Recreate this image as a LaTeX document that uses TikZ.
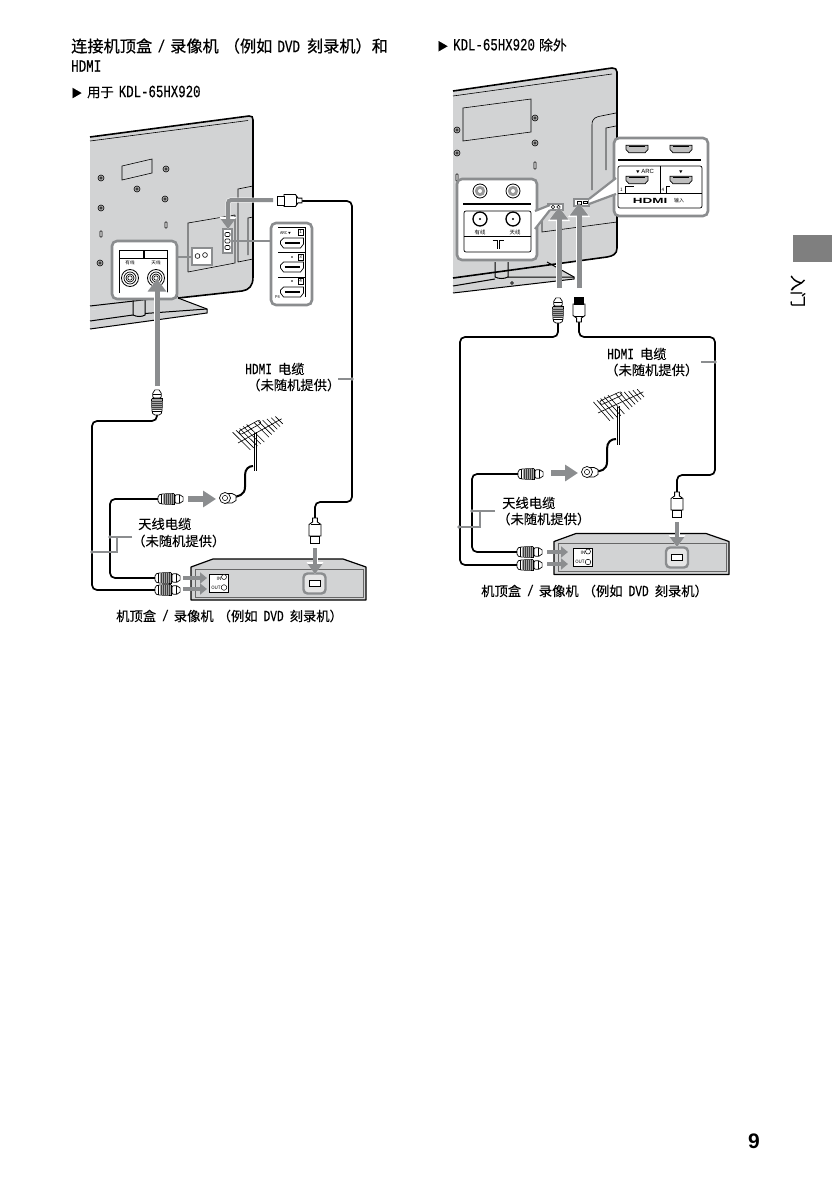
\documentclass[tikz,border=0pt]{standalone}
\usepackage{fontspec}
\setmainfont[FakeBold=0.12]{Noto Sans CJK SC}
\newfontfamily\ttlfont[FakeBold=0.55]{Noto Sans CJK SC}
\newfontfamily\tinyfont{Noto Sans CJK SC}
\newfontfamily\latfont[FakeStretch=0.72,FakeBold=0.2]{Liberation Mono}
\newfontfamily\latboldfont[FakeStretch=0.72,FakeBold=0.4]{Liberation Mono}
\newfontfamily\sansfont{Liberation Sans}
\usetikzlibrary{arrows.meta}
\definecolor{bodygray}{HTML}{D2D3D4}
\definecolor{callgray}{HTML}{8B8D8F}
\definecolor{sidegray}{HTML}{7F7F7F}
\newcommand{\sz}[1]{\fontsize{#1pt}{#1pt}\selectfont}
\newcommand{\lt}[1]{{\fontsize{15.5pt}{16pt}\latfont #1}}
\newcommand{\hd}[1]{{\fontsize{17.4pt}{16pt}\latboldfont #1}}
\newcommand{\sbt}[1]{{\fontsize{17.2pt}{16pt}\latfont #1}}
\newcommand{\gp}[1]{\hspace*{#1pt}}
\tikzset{
  x=1pt,y=-1pt,
  cable/.style={draw=black,line width=1.7pt,rounded corners=5pt},
  leader/.style={draw=callgray,line width=1.1pt},
  dotend/.style={fill=callgray,draw=none},
  panel/.style={draw=callgray,line width=2.6pt,fill=white,rounded corners=5pt},
  thinl/.style={draw=black,line width=0.6pt},
  edgeln/.style={draw=black,line width=1pt},
  bigarrow/.style={draw=callgray,line width=5pt,
    preaction={draw=white,line width=6.4pt,-{Triangle[length=14pt,width=21pt]}},
    -{Triangle[length=12.5pt,width=18pt]}},
  midarrow/.style={draw=callgray,line width=4pt,
    preaction={draw=white,line width=5pt,-{Triangle[length=12pt,width=16pt]}},
    -{Triangle[length=10pt,width=14pt]}},
  smallarrow/.style={draw=callgray,line width=3.4pt,-{Triangle[length=7pt,width=11pt]}},
  antarrow/.style={draw=callgray,line width=6pt,-{Triangle[length=13pt,width=16pt]}},
  txt/.style={inner sep=0pt,anchor=west,text=black},
  tiny/.style={inner sep=0pt,text=black,font=\tinyfont\sz{4.6}},
  coaxplug/.pic={
    \draw[line width=0.7pt,fill=white,rounded corners=1.5pt] (0,-3.5) -- (3,-5) -- (17,-5.5) -- (17,5.5) -- (3,5) -- (0,3.5) -- cycle;
    \fill[black!35] (5,-5) rectangle (16,5);
    \foreach \u in {6,8,10,12,14}{\draw[black!75,line width=0.5pt] (\u,-5) -- (\u,5);}
    \draw[line width=0.8pt] (3.5,-5) -- (3.5,5) (16.5,-5.5) -- (16.5,5.5);
    \draw[line width=0.7pt,fill=white,rounded corners=2pt] (17,-4.5) -- (24,-4) -- (26,0) -- (24,4) -- (17,4.5) -- cycle;
    \draw[line width=0.6pt] (21,-4) -- (21,4);
  },
  hdmiplug/.pic={
    \draw[line width=0.9pt,fill=white] (0,-2.4) -- (4,-2.4) -- (6.5,-6) -- (18,-6) -- (18,6) -- (6.5,6) -- (4,2.4) -- (0,2.4) -- cycle;
    \draw[line width=0.9pt,fill=white] (18,-4.5) -- (25,-4.5) -- (25,4.5) -- (18,4.5) -- cycle;
    \draw[line width=0.6pt] (6,-4.5) -- (6,4.5);
  },
  porta/.pic={
    \draw[line width=0.7pt,fill=white] (-11.5,-2) -- (-8.5,-5) -- (11.5,-5) -- (11.5,1) -- (8.5,5) -- (-8.5,5) -- (-11.5,1) -- cycle;
    \draw[line width=2pt] (-7.5,-0.5) -- (7.5,-0.5);
  },
  portb/.pic={
    \draw[line width=0.7pt,fill=black!25] (-11,-3.8) -- (11,-3.8) -- (11,0.5) -- (8,3.8) -- (-8,3.8) -- (-11,0.5) -- cycle;
    \draw[line width=1.4pt] (-8,-2.3) -- (8,-2.3);
  },
  rings/.pic={
    \draw[line width=0.8pt,fill=white] (0,0) circle (8.5pt);
    \draw[line width=0.7pt] (0,0) circle (6pt) (0,0) circle (4pt);
    \draw[line width=0.6pt] (0,0) circle (2.2pt);
  },
  screw/.pic={
    \draw[line width=0.6pt,fill=black!30] (0,0) circle (3pt);
    \draw[line width=0.5pt,fill=white] (0,0) circle (1.2pt);
  },
  gcirc/.pic={
    \draw[line width=0.8pt,fill=white] (0,0) circle (7pt);
    \fill[black!40] (0,0) circle (5.2pt);
    \fill[white] (0,0) circle (2pt);
  },
  dcirc/.pic={
    \draw[line width=1.3pt,fill=white] (0,0) circle (7pt);
    \fill (0,0) circle (1.1pt);
  },
  tsym/.pic={
    \draw[line width=0.8pt] (-5.5,-4) -- (-0.9,-4) -- (-0.9,5) (5.5,-4) -- (0.9,-4) -- (0.9,5);
  },
  antenna/.pic={
    \draw[line width=0.6pt] (0,0) -- (50,0);
    \foreach \u/\l in {4/12,8/12,12/12,16/12,20/12,27/10,31/9,35/8,39/7,43/6,47/5}{
      \draw[line width=0.6pt] ({\u-0.29*\l},-\l) -- ({\u+0.29*\l},\l);}
    \draw[line width=0.6pt,rounded corners=2pt] (6,-10) -- (30,-10) -- (30,-6) -- (6,-6) -- cycle;
  },
  fconn/.pic={
    \draw[line width=0.7pt,fill=white] (0,-4.5) -- (7,-4.5) -- (11,-2.5) -- (11,2.5) -- (7,5) -- (0,5) -- cycle;
    \draw[line width=0.7pt,fill=white] (0,0) circle (5.5pt);
    \draw[line width=0.5pt] (0,0) circle (2.6pt);
  },
  settop/.pic={
    \draw[line width=0.8pt,fill=bodygray] (6,33) arc[start angle=180,end angle=360,x radius=11.5,y radius=3.5];
    \draw[line width=0.8pt,fill=bodygray] (147,33) arc[start angle=180,end angle=360,x radius=11,y radius=3.5];
    \draw[line width=1.2pt,fill=bodygray,line join=round] (0,8) -- (22,0) -- (152,0) -- (175,8) -- (175,41) -- (0,41) -- cycle;
    \draw[line width=0.5pt,draw=black!60] (4,10) rectangle (172,38);
  },
  hplate/.pic={
    \draw[callgray,line width=2.4pt,fill=black!10,rounded corners=4pt] (-11,-10) rectangle (11,10);
    \draw[line width=0.8pt,fill=white] (-5.5,-3) rectangle (5.5,3);
  },
  ioplate/.pic={
    \draw[line width=0.5pt,fill=white] (0,0) rectangle (19,18);
    \draw[line width=0.5pt,fill=white] (15,3) circle (2.5pt) (15,13.5) circle (2.8pt);
    \node[inner sep=0pt,font=\tinyfont\sz{4.6}] at (10,4.5) {IN};
    \node[inner sep=0pt,font=\tinyfont\sz{4.6}] at (7,13.5) {OUT};
  },
}
\begin{document}
\begin{tikzpicture}
\useasboundingbox (0,0) rectangle (832,1180);
\fill[white] (0,0) rectangle (832,1180);

% ---------- left television ----------
\fill[bodygray] (90,137) -- (249,116) -- (253,119) -- (253,277) .. controls (253,286) and (249,290) .. (242,291) -- (90,310) -- cycle;
\fill[bodygray] (178,298) -- (207,309) -- (207,313) -- (90,329) -- (90,310) -- cycle;
\draw[edgeln,fill=bodygray] (133,298) -- (133,315) .. controls (137,317) and (142,317) .. (145,315) -- (145,298);
\draw[line width=1.6pt] (90,137) -- (249,116) .. controls (252,116) and (253,117) .. (253,120) -- (253,277) .. controls (253,286) and (249,290) .. (242,291) -- (178,298);
\draw[thinl] (90,141) -- (248,120.5);
\draw[edgeln] (90,306) -- (178,296);
\draw[edgeln] (178,298) -- (207,309) -- (207,313) -- (90,329);
\draw[edgeln] (90,321) -- (133,315) (145,313.5) -- (207,309);
\draw[thinl] (122,166) -- (152,159) -- (152,173) -- (122,180) -- cycle;
\draw[thinl] (188,272) -- (188,223) -- (235,215) (188,272) -- (235,263) -- (235,215);
\draw[thinl] (238,262) -- (238,189) -- (253,186) (248,255) -- (248,218) -- (253,217) (238,262) -- (253,259);
\path (101,178) pic {screw} (166,169) pic {screw} (137,189) pic {screw} (165,199) pic {screw} (101,208) pic {screw} (100,263) pic {screw};
\draw[line width=0.6pt,fill=white,rounded corners=0.5pt] (100,231) rectangle (102,237) (165,222) rectangle (167,228);

% left antenna callout
\coordinate (lcallE) at (177,257);
\coordinate (lboxW) at (192,257);
\draw[callgray,line width=2.4pt] (lcallE) -- (lboxW);
\draw[callgray,line width=1.6pt,fill=white] (192,248) rectangle (212,265);
\draw[line width=0.6pt] (197.5,256) circle (2.4pt) (205,255) circle (2.4pt);
\draw[panel] (112,241) rectangle (177,299);
\draw[thinl] (119,293) -- (119,250) -- (167,250) -- (167,293);
\draw[thinl] (119,258) -- (167,258);
\path (144,254) pic[scale=.9] {tsym};
\node[tiny] (lwired) at (130,263) {有线};
\node[tiny] (lant) at (156,263) {天线};
\path (130,278) pic {rings} (156,278) pic {rings};

% left HDMI callout
\coordinate (lhdmiE) at (232,241);
\coordinate (lpanelW) at (271,241);
\draw[callgray,line width=2.4pt] (lhdmiE) -- (lpanelW);
\draw[callgray,line width=1.6pt,fill=white] (223,229) rectangle (232,253);
\draw[line width=0.7pt,fill=white,rounded corners=1pt] (225,232.5) rectangle (230,236.5) (225,239) rectangle (230,243) (225,245.5) rectangle (230,249.5);
\draw[panel] (271,223) rectangle (312,305);
\draw[thinl] (278,227) -- (305,227) -- (305,297) (278,252) -- (305,252) (278,277) -- (305,277);
\path (292,243) pic {porta} (292,267) pic {porta} (292,292) pic {porta};
\node[tiny,font=\tinyfont\sz{4}] (larc) at (285.5,233) {ARC\,{\sz{2.8}▼}};
\draw[line width=0.3pt,fill=white] (298.5,229) rectangle (303,235.5);
\draw[line width=0.3pt,fill=white] (298.5,254) rectangle (303,260.5);
\draw[line width=0.3pt,fill=white] (298.5,278) rectangle (303,284.5);
\node[tiny,font=\tinyfont\sz{4.6}] (lone) at (300.7,232.2) {1};
\node[tiny,font=\tinyfont\sz{4.6}] (lthree) at (300.7,257.2) {3};
\node[tiny,font=\tinyfont\sz{4.6}] (lfour) at (300.7,281.2) {4};
\fill (292,257) circle (0.8pt) (292,281) circle (0.8pt);
\node[tiny,font=\tinyfont\sz{4}] (lpf) at (277.5,297.5) {P4};

% left cables
\coordinate (lhplugC) at (302,201);
\coordinate (lhA) at (352,201);
\coordinate (lhB) at (352,502);
\coordinate (lhC) at (315,502);
\coordinate (lhplugD) at (315,518);
\draw[cable] (lhplugC) -- (lhA) -- (lhB) -- (lhC) -- (lhplugD);
\coordinate (lcoaxU) at (157,414);
\coordinate (lcA) at (157,421);
\coordinate (lcB) at (92,421);
\coordinate (lcC) at (92,590);
\coordinate (lcoaxOut) at (155,590);
\draw[cable] (lcoaxU) -- (lcA) -- (lcB) -- (lcC) -- (lcoaxOut);
\coordinate (lant1) at (158,499);
\coordinate (laA) at (110,499);
\coordinate (laB) at (110,578);
\coordinate (lcoaxIn) at (155,578);
\draw[cable] (lant1) -- (laA) -- (laB) -- (lcoaxIn);
\path (302,200.5) pic[rotate=180] {hdmiplug};
\path (315,518) pic[rotate=-90] {hdmiplug};
\path (157,415) pic[rotate=90] {coaxplug};
\path (158,499) pic {coaxplug};
\path (155,578) pic {coaxplug};
\path (155,590) pic {coaxplug};

% left arrows
\coordinate (laS) at (157,386);
\coordinate (laT) at (157,279);
\draw[bigarrow] (laS) -- (laT);
\coordinate (lhS) at (273,200);
\coordinate (lhM) at (228,200);
\coordinate (lhT) at (228,229);
\draw[midarrow,rounded corners=3pt] (lhS) -- (lhM) -- (lhT);

% left antenna
\draw[thinl] (254,433) -- (254,471) (256.5,432) -- (256.5,471);
\path (238,443) pic[rotate=29] {antenna};
\coordinate (laF) at (232,497);
\coordinate (laG) at (253,466);
\draw[line width=2pt] (laF) .. controls (238,497) and (245,495) .. (245,487) -- (245,475) .. controls (245,469) and (249,466) .. (laG);
\path (225,498) pic {fconn};
\coordinate (laa) at (188,499);
\coordinate (lab) at (216,499);
\draw[antarrow] (laa) -- (lab);

% left set-top box
\path (191,559) pic {settop};
\path (314.5,583.5) pic {hplate};
\path (209,574) pic {ioplate};
\coordinate (lsA) at (183,578);
\coordinate (lsB) at (207,578);
\coordinate (lsC) at (183,589);
\coordinate (lsD) at (207,589);
\draw[smallarrow] (lsA) -- (lsB);
\draw[smallarrow] (lsC) -- (lsD);
\coordinate (lpS) at (315,548);
\coordinate (lpT) at (315,574);
\draw[midarrow] (lpS) -- (lpT);

% left leaders
\coordinate (llA) at (338,379);
\coordinate (llB) at (352,379);
\draw[leader] (llA) -- (llB);
\fill[dotend] (llB) circle (1.8pt);
\coordinate (lmA) at (132,537);
\coordinate (lmB) at (110,537);
\coordinate (lmC) at (117,537);
\coordinate (lmD) at (117,552);
\coordinate (lmE) at (92,552);
\draw[leader] (lmA) -- (lmB) (lmC) -- (lmD) -- (lmE);
\fill[dotend] (lmB) circle (1.8pt) (lmE) circle (1.8pt);

% ---------- right television ----------
\fill[bodygray] (453,91) -- (613,68) -- (617,71) -- (617,248) .. controls (617,254) and (613,256) .. (607,257) -- (453,278) -- cycle;
\fill[bodygray] (547,262) -- (574,277) -- (574,279) -- (453,293) -- (453,270) -- cycle;
\draw[edgeln,fill=bodygray] (495,262) -- (495,277) .. controls (499,279) and (504,279) .. (508,277) -- (508,262);
\draw[line width=1.6pt] (453,91) -- (612,68) .. controls (615,68) and (617,69) .. (617,72) -- (617,248) .. controls (617,254) and (613,256) .. (607,257) -- (453,278);
\draw[thinl] (453,96) -- (612,74);
\draw[edgeln] (547,262) -- (574,277) -- (574,279) -- (453,293);
\draw[edgeln] (453,286) -- (495,279) (508,277) -- (574,277);
\draw[line width=0.6pt,fill=white] (512,283) circle (1.4pt);
\draw[thinl] (463,108) -- (531,99) -- (531,132) -- (463,141) -- cycle;
\draw[thinl] (592,190) -- (592,125) .. controls (592,118) and (596,117) .. (601,116) -- (616,113);
\draw[thinl] (606,170) -- (606,128) -- (616,126);
\draw[thinl] (542,208) -- (542,232) -- (617,222) (542,208) -- (548,207);
\path (535,118) pic {screw} (535,143) pic {screw} (457,130) pic {screw} (457,153) pic {screw};
\draw[line width=0.6pt,fill=white,rounded corners=0.5pt] (534,162) rectangle (536,169) (456,174) rectangle (458,181);

% right port plates
\draw[callgray,line width=1.4pt,fill=white] (548,204) rectangle (563,210);
\draw[line width=0.5pt] (553,207) circle (1.7pt) (558.5,207) circle (1.7pt);
\draw[callgray,line width=1.4pt,fill=white] (574,199) rectangle (589,206);
\draw[line width=0.5pt] (577,201.5) rectangle (581,204) (583,201) rectangle (587,203.5);

% right antenna callout
\draw[panel] (457,179) rectangle (537,260);
\coordinate (rwA) at (535,211);
\coordinate (rwB) at (550,205);
\coordinate (rwC) at (550,210);
\coordinate (rwD) at (535,229);
\fill[white] (rwA) -- (rwB) -- (rwC) -- (rwD) -- cycle;
\draw[callgray,line width=2.2pt] (rwA) -- (rwB) (rwC) -- (rwD);
\path (480,191) pic {gcirc} (513,191) pic {gcirc};
\draw[line width=1.3pt] (463,204) -- (531,204);
\draw[line width=0.7pt,rounded corners=2pt] (464,211) rectangle (531,252);
\draw[line width=0.7pt] (464,236) -- (531,236);
\path (480,219) pic {dcirc} (513,219) pic {dcirc};
\node[tiny,font=\tinyfont\sz{5.4}] (rwired) at (480,232) {有线};
\node[tiny,font=\tinyfont\sz{5.4}] (rant) at (515,232) {天线};
\path (498,244) pic {tsym};

% right HDMI callout
\draw[panel] (614,138) rectangle (708,216);
\coordinate (rhA) at (616,178);
\coordinate (rhB) at (589,199);
\coordinate (rhC) at (589,204);
\coordinate (rhD) at (616,194);
\fill[white] (rhA) -- (rhB) -- (rhC) -- (rhD) -- cycle;
\draw[callgray,line width=2.2pt] (rhA) -- (rhB) (rhC) -- (rhD);
\path (637,149) pic {portb} (681,149) pic {portb} (637,180) pic {portb} (681,180) pic {portb};
\draw[line width=1.3pt] (618,160) -- (701,160);
\draw[line width=0.7pt,rounded corners=2pt] (618,166) rectangle (702,208);
\draw[line width=0.6pt] (660,166) -- (660,193);
\draw[line width=0.6pt] (618,193) -- (702,193);
\draw[line width=0.5pt] (625,193) -- (625,186) -- (634,186);
\draw[line width=0.5pt] (666,193) -- (666,186) -- (670,186);
\node[tiny,font=\tinyfont\sz{4.6}] (rone) at (621.5,189.5) {1};
\node[tiny,font=\tinyfont\sz{4.6}] (rfour) at (663,189.5) {4};
\node[tiny,font=\sz{6}\sansfont] (rarc) at (645,172) {{\tinyfont\sz{3.6}▼} ARC};
\node[tiny,font=\tinyfont\sz{3.6}] (rtri) at (681,172) {▼};
\node[tiny,font=\sz{10}\sansfont\bfseries] (rlogo) at (650,200.5) {\scalebox{1.35}[0.75]{HDMI}};
\node[tiny,font=\tinyfont\sz{5}] (rinput) at (679,200.5) {输入};

% right cables
\coordinate (rplgA) at (558,322);
\coordinate (rcA) at (558,337);
\coordinate (rcB) at (460,337);
\coordinate (rcC) at (460,565);
\coordinate (rcoaxOut) at (517,565);
\draw[cable] (rplgA) -- (rcA) -- (rcB) -- (rcC) -- (rcoaxOut);
\coordinate (rplgB) at (579,322);
\coordinate (rhcA) at (579,337);
\coordinate (rhcB) at (715,337);
\coordinate (rhcC) at (715,475);
\coordinate (rhcD) at (677,475);
\coordinate (rplgC) at (677,492);
\draw[cable] (rplgB) -- (rhcA) -- (rhcB) -- (rhcC) -- (rhcD) -- (rplgC);
\coordinate (rant1) at (518,474);
\coordinate (raA) at (472,474);
\coordinate (raB) at (472,552);
\coordinate (rcoaxIn) at (517,552);
\draw[cable] (rant1) -- (raA) -- (raB) -- (rcoaxIn);
\path (558,323) pic[rotate=90] {coaxplug};
\path (579,322) pic[rotate=90] {hdmiplug};
\fill (574.5,297) rectangle (583.5,304);
\path (677,492) pic[rotate=-90] {hdmiplug};
\path (518,474) pic {coaxplug};
\path (517,552) pic {coaxplug};
\path (517,565) pic {coaxplug};

% right arrows
\coordinate (raS) at (559,288);
\coordinate (raT) at (559,207);
\draw[bigarrow] (raS) -- (raT);
\coordinate (rbS) at (579,288);
\coordinate (rbT) at (579,203);
\draw[bigarrow] (rbS) -- (rbT);

% right antenna
\draw[thinl] (617,407) -- (617,445) (619.5,406) -- (619.5,445);
\path (598,413) pic[rotate=25] {antenna};
\coordinate (raF) at (595,471);
\coordinate (raG) at (616,439);
\draw[line width=2pt] (raF) .. controls (600,472) and (607,470) .. (607,462) -- (607,449) .. controls (607,442) and (611,439) .. (raG);
\path (587,472) pic {fconn};
\coordinate (raa) at (551,473);
\coordinate (rab) at (578,473);
\draw[antarrow] (raa) -- (rab);

% right set-top box
\path (554,533.5) pic {settop};
\path (677,557.5) pic {hplate};
\path (573,548.5) pic {ioplate};
\coordinate (rsA) at (547,552);
\coordinate (rsB) at (568,552);
\coordinate (rsC) at (547,564);
\coordinate (rsD) at (568,564);
\draw[smallarrow] (rsA) -- (rsB);
\draw[smallarrow] (rsC) -- (rsD);
\coordinate (rpS) at (677,522);
\coordinate (rpT) at (677,547);
\draw[midarrow] (rpS) -- (rpT);

% right leaders
\coordinate (rlA) at (701,362);
\coordinate (rlB) at (715,362);
\draw[leader] (rlA) -- (rlB);
\fill[dotend] (rlB) circle (1.8pt);
\coordinate (rmA) at (495,511);
\coordinate (rmB) at (472,511);
\coordinate (rmC) at (480,511);
\coordinate (rmD) at (480,527);
\coordinate (rmE) at (459,527);
\draw[leader] (rmA) -- (rmB) (rmC) -- (rmD) -- (rmE);
\fill[dotend] (rmB) circle (1.8pt) (rmE) circle (1.8pt);

% ---------- texts ----------
\node[txt,font=\sz{16.2}\ttlfont] (title1) at (71,46) {连接机顶盒\gp{5.5}\hd{/}\gp{5}录像机\gp{5}（例如\gp{5}\hd{DVD}\gp{7}刻录机）和};
\node[txt] (title2) at (71,66) {\hd{HDMI}};
\node[txt,font=\sz{13.3}] (subl) at (71,92) {{\sz{11}▶}\gp{5}用于\gp{5}\sbt{KDL-65HX920}};
\node[txt,font=\sz{14}] (subr) at (437,45) {{\sz{11}▶}\gp{5}\sbt{KDL-65HX920}\gp{4}除外};

\node[txt,font=\sz{13.3}] (lh1) at (245,369) {\lt{HDMI}\gp{6}电缆};
\node[txt,font=\sz{13.3}] (lh2) at (247,385) {（未随机提供）};
\node[txt,font=\sz{13.3}] (lc1) at (138,524) {天线电缆};
\node[txt,font=\sz{13.3}] (lc2) at (132,541) {（未随机提供）};
\node[txt,font=\sz{13.3}] (lbot) at (116,616) {机顶盒\gp{6}\lt{/}\gp{5}录像机\gp{4}（例如\gp{6}\lt{DVD}\gp{6}刻录机）};

\node[txt,font=\sz{13.3}] (rh1) at (607,354) {\lt{HDMI}\gp{6}电缆};
\node[txt,font=\sz{13.3}] (rh2) at (605,370) {（未随机提供）};
\node[txt,font=\sz{13.3}] (rc1) at (502,503) {天线电缆};
\node[txt,font=\sz{13.3}] (rc2) at (497,519) {（未随机提供）};
\node[txt,font=\sz{13.3}] (rbot) at (481,591) {机顶盒\gp{6}\lt{/}\gp{5}录像机\gp{4}（例如\gp{6}\lt{DVD}\gp{6}刻录机）};

% ---------- page furniture ----------
\fill[sidegray] (793,235) rectangle (832,262);
\node[inner sep=0pt,rotate=-90,font=\sz{16}] (side) at (798,291) {入门};
\node[inner sep=0pt,font=\sz{21}\sansfont\bfseries] (page) at (754,1141) {9};
\end{tikzpicture}
\end{document}
